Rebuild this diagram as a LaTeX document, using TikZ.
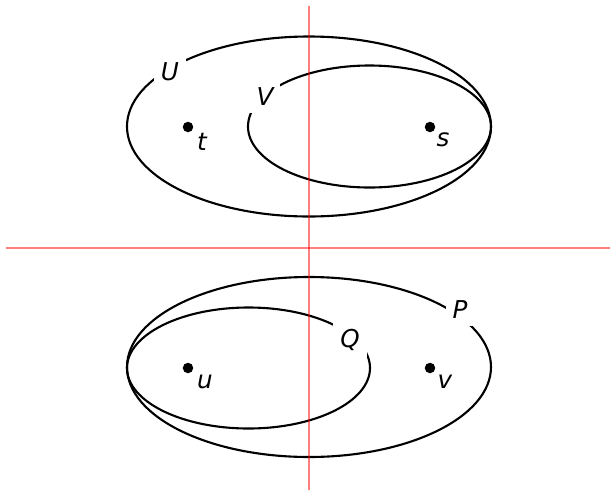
\documentclass[tikz,border=0pt]{standalone}
\usepackage{fontspec}
\setmainfont{DejaVu Sans}
\usepackage{tikz}
\usetikzlibrary{shapes.geometric}

\begin{document}
\begin{tikzpicture}[
  setline/.style={ellipse, draw, line width=1.2pt, inner sep=0pt},
  axis/.style={line width=1.1pt, draw=red, draw opacity=0.5},
  lbl/.style={font=\fontsize{14}{16}\selectfont\itshape, inner sep=0pt},
  cut/.style={lbl, fill=white, inner sep=4pt},
  pt/.style={circle, fill=black, inner sep=0pt, minimum size=0.21cm},
]
\useasboundingbox (-6.18,-4.84) rectangle (6.02,4.96);

% upper pair: V inside U
\node[setline, minimum width=7.28cm, minimum height=3.6cm] (U) at (0,2.43) {};
\node[setline, minimum width=4.86cm, minimum height=2.44cm] (V) at (1.21,2.43) {};
\node[cut] (Ulab) at (-2.78,3.52) {U};
\node[cut] (Vlab) at (-0.88,3.02) {V};
\node[pt] (t) at (-2.42,2.42) {};
\node[pt] (s) at (2.42,2.42) {};
\node[lbl] (tlab) at (-2.14,2.12) {t};
\node[lbl] (slab) at (2.68,2.16) {s};

% lower pair: Q inside P
\node[setline, minimum width=7.28cm, minimum height=3.6cm] (P) at (0,-2.38) {};
\node[setline, minimum width=4.86cm, minimum height=2.42cm] (Q) at (-1.21,-2.40) {};
\node[cut] (Plab) at (3.02,-1.24) {P};
\node[cut] (Qlab) at (0.82,-1.84) {Q};
\node[pt] (u) at (-2.42,-2.40) {};
\node[pt] (v) at (2.42,-2.40) {};
\node[lbl] (ulab) at (-2.08,-2.68) {u};
\node[lbl] (vlab) at (2.72,-2.68) {v};

% axes
\coordinate (xl) at (-6.06,0);
\coordinate (xr) at (6.02,0);
\coordinate (yt) at (0,4.84);
\coordinate (yb) at (0,-4.84);
\draw[axis] (xl) -- (xr);
\draw[axis] (yt) -- (yb);
\end{tikzpicture}
\end{document}
